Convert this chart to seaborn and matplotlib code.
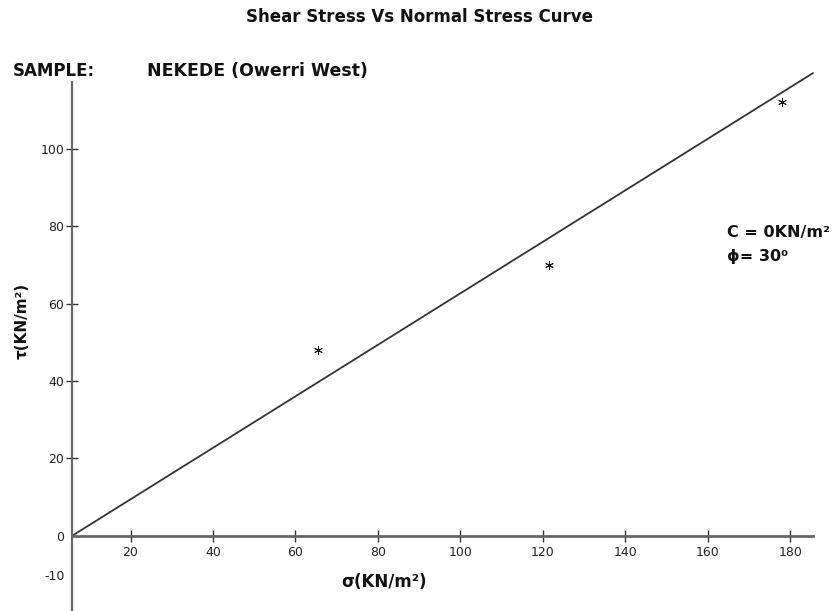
import matplotlib
matplotlib.use("Agg")
import matplotlib.pyplot as plt
import seaborn as sns
import pandas as pd

# data
sigma = [65.5, 121.5, 178]          # normal stress (KN/m2)
tau = [48, 70, 112]                 # shear stress (KN/m2)
line_sigma = [5.8, 185.5]           # failure envelope as drawn
line_tau = [0, 119.5]
xticks = [20, 40, 60, 80, 100, 120, 140, 160, 180]
yticks = [-10, 0, 20, 40, 60, 80, 100]

sns.set_theme(style="white")
plt.rcParams["font.family"] = ["DejaVu Sans"]

W, H = 834, 611
fig = plt.figure(figsize=(W / 100, H / 100), dpi=100)
ax = fig.add_axes([72 / W, 0, (813 - 72) / W, (611 - 82) / H])

pts = pd.DataFrame({"sigma": sigma, "tau": tau})
env = pd.DataFrame({"sigma": line_sigma, "tau": line_tau})
sns.lineplot(data=env, x="sigma", y="tau", ax=ax, color="#333333", linewidth=1.3)
for ln in ax.lines:
    ln.set_clip_on(False)
sns.scatterplot(data=pts, x="sigma", y="tau", ax=ax, marker=(6, 2, 0), s=32,
                color="#111111", linewidth=0.7, edgecolor="#111111")

ax.set_xlim(5.8, 185.5)
ax.set_ylim(-19.4, 117.2)

for s in ["top", "right"]:
    ax.spines[s].set_visible(False)
ax.spines["bottom"].set_position(("data", 0))
ax.spines["bottom"].set_color("#666666")
ax.spines["bottom"].set_linewidth(2.0)
ax.spines["left"].set_color("#666666")
ax.spines["left"].set_linewidth(1.6)

ax.set_xticks(xticks)
ax.set_xticklabels([str(v) for v in xticks])
ax.set_yticks(yticks)
ax.set_yticklabels([str(v) for v in yticks])
ax.tick_params(axis="x", direction="inout", length=8, width=1.0, color="#333333",
               labelsize=9, pad=3, labelcolor="#222222", bottom=True)
ax.tick_params(axis="y", direction="inout", length=9, width=1.0, color="#333333",
               labelsize=9, pad=1, labelcolor="#222222", left=True)
ticks = ax.yaxis.get_major_ticks()
ticks[0].tick1line.set_visible(False)
ticks[1].tick1line.set_visible(False)
ax.set_xlabel("")
ax.set_ylabel("")
ax.grid(False)

fig.text(419 / W, 1 - 17 / H, "Shear Stress Vs Normal Stress Curve", ha="center", va="center",
         fontsize=12, fontweight="bold", color="#111111")
fig.text(13 / W, 1 - 71 / H, "SAMPLE:", ha="left", va="center", fontsize=12, fontweight="bold",
         color="#111111")
fig.text(147 / W, 1 - 71 / H, "NEKEDE (Owerri West)", ha="left", va="center", fontsize=12.5,
         fontweight="bold", color="#111111")
fig.text(384 / W, 1 - 582 / H, "σ(KN/m²)", ha="center", va="center", fontsize=12,
         fontweight="bold", color="#111111")
fig.text(22 / W, 1 - 321 / H, "τ(KN/m²)", ha="center", va="center", rotation=90, fontsize=11,
         fontweight="bold", color="#111111")
fig.text(727 / W, 1 - 233 / H, "C = 0KN/m²", ha="left", va="center", fontsize=11.5,
         fontweight="bold", color="#111111")
fig.text(727 / W, 1 - 256 / H, "ϕ= 30⁰", ha="left", va="center", fontsize=11.5,
         fontweight="bold", color="#111111")

fig.savefig("out.png", dpi=100, facecolor="white")
